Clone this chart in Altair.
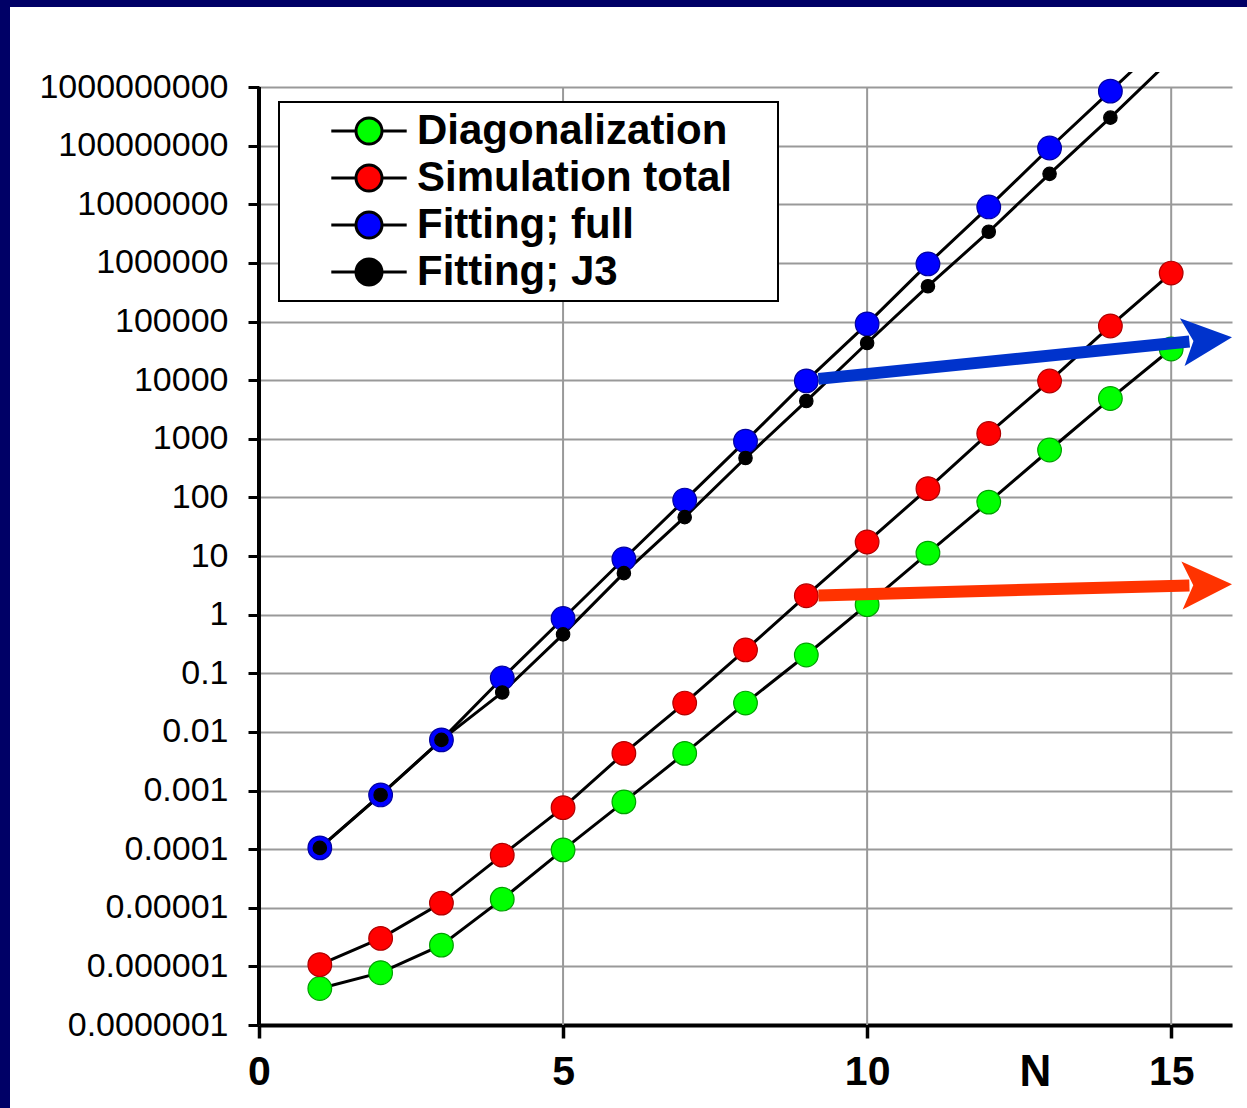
import math
import altair as alt
import pandas as pd

# ---------------- data ----------------
n_values = list(range(1, 16))
series_names = ["Diagonalization", "Simulation total", "Fitting; full", "Fitting; J3"]
diagonalization = [4.2e-7, 7.8e-7, 2.3e-6, 1.4e-5, 9.7e-5, 6.4e-4, 4.3e-3, 0.031, 0.205,
                   1.48, 11.2, 83, 643, 4850, 3.4e4]
simulation_total = [1.07e-6, 3.0e-6, 1.2e-5, 7.9e-5, 5.1e-4, 4.3e-3, 0.031, 0.25, 2.1,
                    17.3, 141, 1230, 9660, 8.4e4, 6.7e5]
fitting_full = [1.05e-4, 8.4e-4, 7.3e-3, 0.083, 0.86, 8.9, 90, 910, 9700,
                9.1e4, 9.6e5, 9.0e6, 9.1e7, 8.5e8, 8.0e9]
fitting_j3 = [1.05e-4, 8.4e-4, 7.3e-3, 0.047, 0.46, 5.1, 46, 470, 4400,
              4.3e4, 4.0e5, 3.4e6, 3.3e7, 3.0e8, 3.0e9]

y_ticks = [1e-7, 1e-6, 1e-5, 1e-4, 1e-3, 1e-2, 1e-1, 1, 10, 100, 1e3, 1e4, 1e5,
           1e6, 1e7, 1e8, 1e9]
x_ticks = [0, 5, 10, 15]
x_grid = [5, 10, 15]

# annotation arrows: start on the N=9 marker, tip at the right edge
arrow_colors = ["#0033CC", "#FF3300"]
arrow_start_n = [9, 9]
arrow_start_value = [1.0e4, 2.1]
arrow_tip_n = [16, 16]
arrow_tip_value = [5.4e4, 3.3]
arrow_angles = [354.4, 358.5]

# ---------------- styles ----------------
fill_colors = ["#00FF00", "#FF0000", "#0000FF", "#000000"]
edge_colors = ["#00A000", "#B00000", "#0000A0", "#000000"]
marker_sizes = [560, 560, 560, 180]
FONT = "Liberation Sans"
NAVY = "#000066"

X_DOMAIN = [0, 16]
Y_DOMAIN = [1e-7, 10 ** 9.256]
W, H = 973, 953

rows = []
for k, (name, vals) in enumerate(zip(series_names,
                                     [diagonalization, simulation_total, fitting_full, fitting_j3])):
    for n, v in zip(n_values, vals):
        rows.append({"N": n, "value": v, "series": name,
                     "edge": edge_colors[k], "msize": marker_sizes[k]})
df = pd.DataFrame(rows)


def along(i, n):
    """point on arrow i (straight in N / log(value) space) at abscissa n"""
    t = (n - arrow_start_n[i]) / (arrow_tip_n[i] - arrow_start_n[i])
    la, lb = math.log10(arrow_start_value[i]), math.log10(arrow_tip_value[i])
    return 10 ** (la + t * (lb - la))


arrow_df = pd.DataFrame({
    "N": [arrow_start_n[i] + 0.2 for i in range(2)],
    "value": [along(i, arrow_start_n[i] + 0.2) for i in range(2)],
    "N2": [arrow_tip_n[i] - 0.7 for i in range(2)],
    "value2": [along(i, arrow_tip_n[i] - 0.7) for i in range(2)],
    "tipN": arrow_tip_n,
    "tipValue": arrow_tip_value,
    "color": arrow_colors,
    "angle": arrow_angles,
})

x_scale = alt.Scale(domain=X_DOMAIN, nice=False, zero=False)
y_scale = alt.Scale(type="log", domain=Y_DOMAIN, nice=False)

x_axis = alt.Axis(
    values=x_ticks, format="d", grid=False,
    domainColor="black", domainWidth=4,
    tickColor="black", tickWidth=3.5, tickSize=13,
    labelFont=FONT, labelFontSize=41, labelFontWeight="bold", labelColor="black",
    labelBaseline="alphabetic", labelPadding=46, labelFlush=False, labelOverlap=False,
    title="N", titleFont=FONT, titleFontSize=44, titleFontWeight="bold", titleColor="black",
    titleX=776, titleY=60, titleBaseline="alphabetic", titleAlign="center",
)
y_axis = alt.Axis(
    values=y_ticks, format=".7~f", grid=True, gridColor="#999999", gridWidth=2,
    domain=False, tickColor="black", tickWidth=3, tickSize=11,
    labelFont=FONT, labelFontSize=34, labelColor="black", labelPadding=20,
    labelFlush=False, labelOverlap=False, labelLimit=400, title=None,
)

X = alt.X("N:Q", scale=x_scale, axis=x_axis)
Y = alt.Y("value:Q", scale=y_scale, axis=y_axis)

legend_path = "M-2.9,0H-1M1,0H2.9M1,0A1,1,0,1,1,-1,0A1,1,0,1,1,1,0Z"
legend = alt.Legend(
    title="\u00a0", titleOrient="right", titlePadding=38, titleFontSize=2,
    orient="none", legendX=20, legendY=30,
    symbolType=legend_path, symbolSize=676, symbolStrokeColor="black",
    symbolStrokeWidth=3, symbolOffset=61, labelOffset=27,
    labelFont=FONT, labelFontSize=42, labelFontWeight="bold", labelColor="black",
    labelLimit=2000, padding=8, rowPadding=5, fillColor="white", strokeColor="black",
)

# navy frame strips (outside the plot area)
frame_top = alt.Chart(pd.DataFrame({"k": [0]})).mark_rect(color=NAVY).encode(
    x=alt.value(-259), x2=alt.value(W + 15), y=alt.value(-72), y2=alt.value(-65))
frame_left = alt.Chart(pd.DataFrame({"k": [0]})).mark_rect(color=NAVY).encode(
    x=alt.value(-259), x2=alt.value(-249), y=alt.value(-72), y2=alt.value(H + 83))

grid_df = pd.DataFrame({"N": x_grid, "value": [y_ticks[0]] * len(x_grid),
                        "value2": [y_ticks[-1]] * len(x_grid)})
vgrid = alt.Chart(grid_df).mark_rule(color="#999999", strokeWidth=2).encode(
    x=X, y=Y, y2="value2:Q")

yline_df = pd.DataFrame({"N": [X_DOMAIN[0]], "value": [y_ticks[0]], "value2": [y_ticks[-1]]})
yline = alt.Chart(yline_df).mark_rule(color="black", strokeWidth=4).encode(
    x=X, y=Y, y2="value2:Q")

lines = alt.Chart(df).mark_line(color="black", strokeWidth=3, clip=True).encode(
    x=X, y=Y, detail="series:N", order="N:Q")

points = alt.Chart(df).mark_point(filled=True, opacity=1, strokeWidth=1.2, clip=True,
                                  shape="circle").encode(
    x=X, y=Y,
    fill=alt.Fill("series:N", scale=alt.Scale(domain=series_names, range=fill_colors),
                  legend=legend, sort=series_names),
    stroke=alt.Stroke("edge:N", scale=None),
    size=alt.Size("msize:Q", scale=None),
)

shafts = alt.Chart(arrow_df).mark_rule(strokeWidth=12, strokeCap="butt").encode(
    x=X, y=Y, x2="N2:Q", y2="value2:Q", color=alt.Color("color:N", scale=None))

head_path = "M0,0L-2,-0.96L-1.55,0L-2,0.96Z"
heads = alt.Chart(arrow_df).mark_point(shape=head_path, size=2500, filled=True, opacity=1,
                                       strokeWidth=0).encode(
    x=alt.X("tipN:Q", scale=x_scale, axis=x_axis),
    y=alt.Y("tipValue:Q", scale=y_scale, axis=y_axis),
    color=alt.Color("color:N", scale=None),
    angle=alt.Angle("angle:Q", scale=None),
)

chart = alt.layer(frame_top, frame_left, vgrid, yline, lines, points, shafts, heads).properties(
    width=W, height=H,
    autosize=alt.AutoSizeParams(type="none"),
    padding={"left": 259, "top": 72, "right": 15, "bottom": 83},
    background="white",
).configure(font=FONT).configure_view(stroke=None).configure_legend(strokeWidth=2)

chart.save("out.html", embed_options={"renderer": "svg", "actions": False})
